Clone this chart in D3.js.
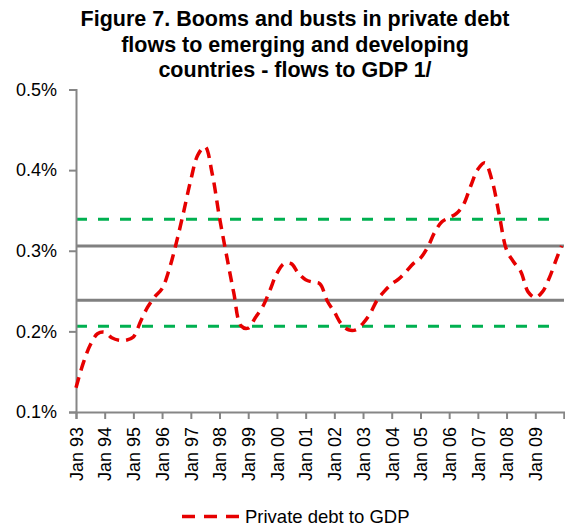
<!DOCTYPE html>
<html>
<head>
<meta charset="utf-8">
<script src="https://cdn.jsdelivr.net/npm/d3@7.9.0/dist/d3.min.js"></script>
<style>
  html, body { margin: 0; padding: 0; background: #fff; }
  svg { display: block; font-family: "Liberation Sans", Arial, sans-serif; }
</style>
</head>
<body>
<svg id="chart" width="565" height="529"></svg>
<script>
// quarterly readings, Jan 93 .. Oct 09, plus Dec 09
const months = [
  "1993-01","1993-04","1993-07","1993-10","1994-01","1994-04","1994-07","1994-10",
  "1995-01","1995-04","1995-07","1995-10","1996-01","1996-04","1996-07","1996-10",
  "1997-01","1997-04","1997-07","1997-10","1998-01","1998-04","1998-07","1998-10",
  "1999-01","1999-04","1999-07","1999-10","2000-01","2000-04","2000-07","2000-10",
  "2001-01","2001-04","2001-07","2001-10","2002-01","2002-04","2002-07","2002-10",
  "2003-01","2003-04","2003-07","2003-10","2004-01","2004-04","2004-07","2004-10",
  "2005-01","2005-04","2005-07","2005-10","2006-01","2006-04","2006-07","2006-10",
  "2007-01","2007-04","2007-07","2007-10","2008-01","2008-04","2008-07","2008-10",
  "2009-01","2009-04","2009-07","2009-10","2009-12"
];
const debtToGdp = [
  0.130,0.160,0.183,0.197,0.199,0.192,0.189,0.189,
  0.193,0.212,0.230,0.243,0.253,0.277,0.310,0.348,
  0.388,0.419,0.429,0.395,0.341,0.294,0.248,0.207,
  0.204,0.217,0.230,0.250,0.272,0.284,0.284,0.272,
  0.264,0.261,0.259,0.238,0.224,0.209,0.202,0.202,
  0.210,0.222,0.239,0.250,0.259,0.265,0.274,0.284,
  0.291,0.304,0.323,0.336,0.341,0.346,0.357,0.380,
  0.401,0.409,0.387,0.344,0.301,0.286,0.274,0.249,
  0.242,0.249,0.267,0.291,0.306
];
// mean +/- bands
const solidLines = [0.306, 0.2385];
const dashedLines = [0.339, 0.2065];
const yTicks = [0.1, 0.2, 0.3, 0.4, 0.5];
const tickYears = d3.range(1993, 2011);

const svg = d3.select("#chart");
const parse = d3.timeParse("%Y-%m");
const data = months.map((m, i) => ({ date: parse(m), value: debtToGdp[i] }));

const plotLeft = 76, plotRight = 564, plotTop = 89.5, plotBottom = 412;

const x = d3.scaleTime()
  .domain([new Date(1993, 0, 1), new Date(2010, 0, 1)])
  .range([plotLeft, plotRight]);
const y = d3.scaleLinear().domain([0.1, 0.5]).range([plotBottom, plotTop]);

// title
const title = svg.append("text")
  .attr("text-anchor", "middle")
  .attr("font-weight", "bold")
  .attr("font-size", "21.5px")
  .attr("fill", "#000");
["Figure 7. Booms and busts in private debt",
 "flows to emerging and developing",
 "countries - flows to GDP 1/"].forEach((t, i) => {
  title.append("tspan").attr("x", 295).attr("y", 26 + i * 25.5).text(t);
});

// reference lines
svg.selectAll(".solid")
  .data(solidLines)
  .join("line")
  .attr("x1", plotLeft).attr("x2", plotRight)
  .attr("y1", d => y(d)).attr("y2", d => y(d))
  .attr("stroke", "#808080")
  .attr("stroke-width", 3);

svg.selectAll(".dashed")
  .data(dashedLines)
  .join("line")
  .attr("x1", plotLeft).attr("x2", plotRight - 4)
  .attr("y1", d => y(d)).attr("y2", d => y(d))
  .attr("stroke", "#00b050")
  .attr("stroke-width", 3)
  .attr("stroke-dasharray", "11,11");

// axes
const yAxis = svg.append("g")
  .attr("transform", `translate(${plotLeft},0)`)
  .call(d3.axisLeft(y).tickValues(yTicks).tickSize(7).tickPadding(12)
    .tickFormat(d => d3.format(".1f")(d) + "%"));

const xAxis = svg.append("g")
  .attr("transform", `translate(0,${plotBottom})`)
  .call(d3.axisBottom(x)
    .tickValues(tickYears.map(yr => new Date(yr, 0, 1)))
    .tickSize(7)
    .tickFormat(d => d.getFullYear() < 2010 ? d3.timeFormat("Jan %y")(d) : ""));

[yAxis, xAxis].forEach(g => {
  g.select(".domain").attr("stroke", "#868686").attr("stroke-width", 2);
  g.selectAll(".tick line").attr("stroke", "#868686").attr("stroke-width", 2);
  g.selectAll("text").attr("font-size", "18px").attr("fill", "#000")
    .attr("font-family", "Liberation Sans, Arial, sans-serif");
});

xAxis.selectAll(".tick text")
  .attr("text-anchor", "end")
  .attr("transform", "rotate(-90)")
  .attr("x", -15)
  .attr("y", 0)
  .attr("dy", "0.35em");

// series
const line = d3.line()
  .x(d => x(d.date))
  .y(d => y(d.value))
  .curve(d3.curveCatmullRom.alpha(0.5));

svg.append("path")
  .datum(data)
  .attr("d", line)
  .attr("fill", "none")
  .attr("stroke", "#e60000")
  .attr("stroke-width", 3.5)
  .attr("stroke-dasharray", "11,7");

// legend
svg.append("line")
  .attr("x1", 182).attr("x2", 240)
  .attr("y1", 516.5).attr("y2", 516.5)
  .attr("stroke", "#e60000")
  .attr("stroke-width", 3.5)
  .attr("stroke-dasharray", "13,9");

svg.append("text")
  .attr("x", 245).attr("y", 523)
  .attr("font-size", "18.5px")
  .attr("fill", "#000")
  .text("Private debt to GDP");
</script>
</body>
</html>
